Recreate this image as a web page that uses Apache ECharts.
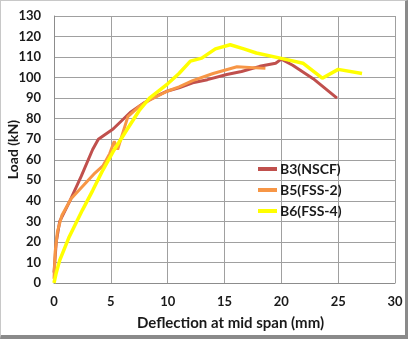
<!DOCTYPE html>
<html><head><meta charset="utf-8">
<script src="https://cdn.jsdelivr.net/npm/echarts@6/dist/echarts.min.js"></script>
<style>
html,body{margin:0;padding:0;background:#fff;}
#frame{position:absolute;left:0;top:0;width:404px;height:334px;border-left:1px solid #c8c8c8;border-top:1px solid #c8c8c8;border-right:3px solid #8a8a8a;border-bottom:4px solid #8a8a8a;}
#c{position:absolute;left:0;top:0;width:408px;height:339px;}
</style></head>
<body>
<div id="frame"></div>
<div id="c"></div>
<script>
var seriesNames = ['B3(NSCF)','B5(FSS-2)','B6(FSS-4)'];
var b3 = [[0,5],[0.2,20],[0.5,30],[1.4,40],[2.4,52],[3.4,65],[3.9,70],[5.2,75],[6.7,83],[8,88],[9,91],[10,93.5],[11,95],[12.2,97.5],[13.5,99],[15.2,101.5],[16.5,103],[18.1,105.5],[19.5,107],[20,109],[21,106],[22.8,99.5],[24.9,90]];
var b5 = [[0,2],[0.1,15],[0.3,25],[0.7,33],[1.5,41],[2.5,47],[3.5,53],[4.3,57],[4.9,63],[5.3,69],[5.6,65],[6.5,81],[7.5,86],[8.4,89],[10,93.5],[11,95.5],[12.2,98.5],[14,102],[16.1,105.3],[18.6,104.5]];
var b6 = [[0,0],[0.2,5],[0.5,11],[1.3,22],[2.5,35.5],[3.4,45],[4.3,55],[5.2,64],[6.4,74.5],[7.5,84],[8.4,90],[10,97],[11,102],[12,108],[13,109.5],[14.2,114],[15.5,116],[16.7,114],[17.8,112],[19.9,109.5],[21.9,107],[23.6,99.7],[25,104],[27.1,102]];
var colors = ['#C0504D','#F79646','#FFFF00'];
var xTitle = 'Deflection at mid span (mm)';
var yTitle = 'Load (kN)';

var font = 'Lato, "Open Sans", sans-serif';
var chart = echarts.init(document.getElementById('c'), null, {renderer:'canvas'});
var data = [b3,b5,b6];
chart.setOption({
  animation:false,
  backgroundColor:'transparent',
  grid:{left:54,right:13,top:16,bottom:56,containLabel:false,outerBoundsMode:'none'},
  legend:{
    orient:'vertical', left:253, top:157,
    icon:'rect', itemWidth:19, itemHeight:4, itemGap:7,
    textStyle:{fontFamily:font,fontWeight:'bold',fontSize:14,color:'#1a1a1a',lineHeight:14,padding:[0,0,0,-2]},
    data:seriesNames
  },
  xAxis:{
    type:'value', min:0, max:30, interval:5,
    name:xTitle, nameLocation:'middle', nameGap:33, nameMoveOverlap:false,
    nameTextStyle:{fontFamily:font,fontWeight:'bold',fontSize:15,color:'#1a1a1a',padding:[0,0,0,12]},
    axisLine:{show:true,lineStyle:{color:'#8c8c8c',width:1}},
    axisTick:{show:false},
    axisLabel:{fontFamily:font,fontWeight:'bold',fontSize:13,color:'#1a1a1a',margin:12},
    splitLine:{show:true,lineStyle:{color:'#a0a0a0',width:1}}
  },
  yAxis:{
    type:'value', min:0, max:130, interval:10,
    name:yTitle, nameLocation:'middle', nameGap:34, nameRotate:90, nameMoveOverlap:false,
    nameTextStyle:{fontFamily:font,fontWeight:'bold',fontSize:14,color:'#1a1a1a'},
    axisLine:{show:true,lineStyle:{color:'#8c8c8c',width:1}},
    axisTick:{show:false},
    axisLabel:{fontFamily:font,fontWeight:'bold',fontSize:13,color:'#1a1a1a',margin:13},
    splitLine:{show:true,lineStyle:{color:'#a0a0a0',width:1}}
  },
  series:data.map(function(d,i){
    return {name:seriesNames[i],type:'line',data:d,showSymbol:false,symbol:'none',
      lineStyle:{color:colors[i],width:i===2?3.5:3},itemStyle:{color:colors[i]},z:2+i};
  })
});
</script>
</body></html>
